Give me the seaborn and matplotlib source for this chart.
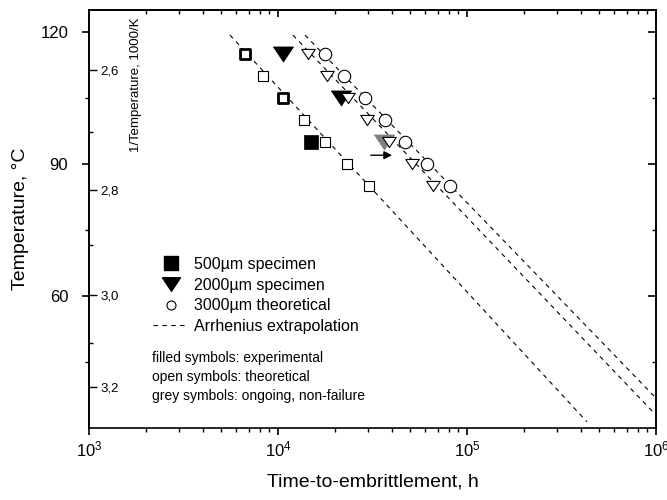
import numpy as np
import seaborn as sns
import matplotlib.pyplot as plt
import matplotlib.ticker as mticker
from matplotlib.lines import Line2D

sns.set_theme(style="ticks")
plt.rcParams['font.family'] = ['Liberation Sans', 'DejaVu Sans']
plt.rcParams.update({
    'axes.linewidth': 1.2,
    'text.color': 'black',
    'axes.labelcolor': 'black',
    'axes.edgecolor': 'black',
    'xtick.color': 'black',
    'ytick.color': 'black',
})

# === Data (time in h, temperature in °C) ===
# 500um specimen, theoretical (open squares)
sq_theo_T = [115, 110, 105, 100, 95, 90, 85]
sq_theo_t = [6690, 8330, 10630, 13730, 17740, 23180, 30290]
# bold open squares
sq_bold_T = [115, 105]
sq_bold_t = [6690, 10630]
# 500um specimen, experimental
sq_exp_T = [95]
sq_exp_t = [14950]

# 2000um specimen, theoretical (open triangles)
tri_theo_T = [115, 110, 105, 100, 95, 90, 85]
tri_theo_t = [14420, 18170, 23460, 29580, 38650, 51170, 66070]
# 2000um specimen, experimental
tri_exp_T = [115, 105]
tri_exp_t = [10630, 21500]
# 2000um ongoing (grey)
tri_grey_T = [95]
tri_grey_t = [36500]

# 3000um theoretical (open circles)
circ_T = [115, 110, 105, 100, 95, 90, 85]
circ_t = [17740, 22360, 28840, 36810, 46990, 61380, 81280]

# Arrhenius extrapolation lines (start / end)
arr1_t, arr1_T = [5570, 431500], [119.3, 31.4]
arr2_t, arr2_T = [12000, 1e6], [119.3, 32.95]
arr3_t, arr3_T = [13900, 1e6], [119.3, 36.8]

# ongoing arrow
arrow_t = [29940, 41580]
arrow_T = 92

# inner 1/T scale
inv_major = [2.6, 2.8, 3.0, 3.2]
inv_minor = [2.7, 2.9, 3.1]

temp_major = [60, 90, 120]
temp_minor = [45, 75, 105]

tri_marker = np.array([[-1, 0.75], [1, 0.75], [0, -0.75], [-1, 0.75]])
dash = (0, (4, 4))

# === Figure ===
fig = plt.figure(figsize=(6.67, 5), dpi=100)
ax = fig.add_axes([0.1334, 0.144, 0.85, 0.836])
ax.set_xscale('log')
ax.set_xlim(1e3, 1e6)
ax.set_ylim(30, 125)

# dashed extrapolations
for xs, ys in [(arr1_t, arr1_T), (arr2_t, arr2_T), (arr3_t, arr3_T)]:
    sns.lineplot(x=xs, y=ys, ax=ax, color='black', lw=0.8, linestyle=dash, zorder=1)

# filled (experimental) symbols
sns.scatterplot(x=sq_exp_t, y=sq_exp_T, ax=ax, marker='s', s=95, color='black',
                edgecolor='black', linewidth=0.5, zorder=3)
sns.scatterplot(x=tri_exp_t, y=tri_exp_T, ax=ax, marker=tri_marker, s=210, color='black',
                edgecolor='black', linewidth=0.5, zorder=3)
sns.scatterplot(x=tri_grey_t, y=tri_grey_T, ax=ax, marker=tri_marker, s=210, color='#808080',
                edgecolor='#808080', linewidth=0.5, zorder=3)

# open (theoretical) symbols
sns.scatterplot(x=sq_theo_t, y=sq_theo_T, ax=ax, marker='s', s=45, color='white',
                edgecolor='black', linewidth=0.8, zorder=4)
sns.scatterplot(x=tri_theo_t, y=tri_theo_T, ax=ax, marker=tri_marker, s=95, color='white',
                edgecolor='black', linewidth=0.8, zorder=4)
sns.scatterplot(x=circ_t, y=circ_T, ax=ax, marker='o', s=80, color='white',
                edgecolor='black', linewidth=0.8, zorder=4)
sns.scatterplot(x=sq_bold_t, y=sq_bold_T, ax=ax, marker='s', s=60, color='white',
                edgecolor='black', linewidth=2.0, zorder=5)

ax.annotate('', xy=(arrow_t[1], arrow_T), xytext=(arrow_t[0], arrow_T),
            arrowprops=dict(arrowstyle='-|>', color='black', lw=1, mutation_scale=12),
            zorder=6)

# === Axes styling ===
ax.yaxis.set_major_locator(mticker.FixedLocator(temp_major))
ax.yaxis.set_minor_locator(mticker.FixedLocator(temp_minor))
ax.tick_params(axis='both', which='major', direction='out', length=5, width=1.2,
               labelsize=12, top=False, right=False)
ax.tick_params(axis='both', which='minor', direction='out', length=3, width=1.0,
               top=False, right=False)
ax.tick_params(axis='y', which='major', pad=10)
ax.xaxis.set_major_formatter(mticker.LogFormatterSciNotation())
ax.xaxis.set_minor_formatter(mticker.NullFormatter())

top = ax.secondary_xaxis('top')
top.tick_params(which='major', direction='in', length=5, width=1.2, labeltop=False)
top.tick_params(which='minor', direction='in', length=3, width=1.0)
top.xaxis.set_major_formatter(mticker.NullFormatter())
top.xaxis.set_minor_formatter(mticker.NullFormatter())

right = ax.secondary_yaxis('right')
right.yaxis.set_major_locator(mticker.FixedLocator(temp_major))
right.yaxis.set_minor_locator(mticker.FixedLocator(temp_minor))
right.yaxis.set_major_formatter(mticker.NullFormatter())
right.tick_params(which='major', direction='in', length=6, width=1.2)
right.tick_params(which='minor', direction='in', length=3, width=1.0)

inv = ax.secondary_yaxis(0, functions=(lambda T: 1000 / (T + 273.15),
                                       lambda v: 1000 / v - 273.15))
inv.set_alignment('right')
inv.yaxis.set_major_locator(mticker.FixedLocator(inv_major))
inv.yaxis.set_minor_locator(mticker.FixedLocator(inv_minor))
inv.yaxis.set_major_formatter(mticker.FuncFormatter(lambda v, p: f"{v:.1f}".replace('.', ',')))
inv.yaxis.set_minor_formatter(mticker.NullFormatter())
inv.tick_params(which='major', direction='out', length=5.5, width=1.0, labelsize=9.5, pad=3)
inv.tick_params(which='minor', direction='out', length=3, width=1.0)

ax.text((136 - 89) / 567, 0.82, '1/Temperature, 1000/K', transform=ax.transAxes,
        rotation=90, ha='center', va='center', fontsize=9.5)

ax.set_xlabel('Time-to-embrittlement, h', fontsize=14)
ax.set_ylabel('Temperature, °C', fontsize=14)
ax.xaxis.set_label_coords(0.5, -0.11)
ax.yaxis.set_label_coords(-0.105, 0.5)

# === Legend ===
handles = [
    Line2D([], [], marker='s', color='black', ls='none', markersize=9.5),
    Line2D([], [], marker=tri_marker, color='black', ls='none', markersize=13),
    Line2D([], [], marker='o', markerfacecolor='white', markeredgecolor='black',
           ls='none', markersize=6.5, markeredgewidth=0.8),
    Line2D([], [], color='black', lw=0.8, ls=dash),
]
labels = ['500µm specimen', '2000µm specimen', '3000µm theoretical', 'Arrhenius extrapolation']
ax.legend(handles, labels, loc='upper left', bbox_to_anchor=((153 - 89) / 567, 1 - (257 - 10) / 418),
          frameon=False, borderpad=0, borderaxespad=0, handlelength=2.2,
          handletextpad=0.4, labelspacing=0.35, fontsize=11.5)

ax.text((152 - 89) / 567, 1 - (351 - 10) / 418,
        'filled symbols: experimental\nopen symbols: theoretical\ngrey symbols: ongoing, non-failure',
        transform=ax.transAxes, ha='left', va='top', fontsize=10, linespacing=1.45)

plt.savefig('out.png', dpi=100)
